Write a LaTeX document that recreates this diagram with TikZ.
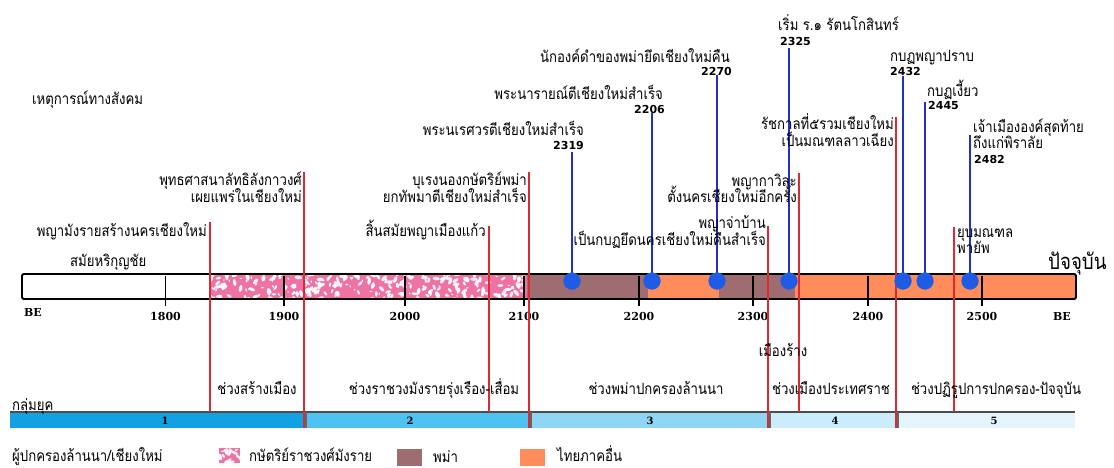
\documentclass[tikz,border=0pt]{standalone}
\usepackage{fontspec}
\newfontfamily\thai[Script=Thai,FakeStretch=0.85]{Loma}
\newfontfamily\numsans{DejaVu Sans}
\newfontfamily\numserif{DejaVu Serif}
\definecolor{redl}{HTML}{DC2A33}
\definecolor{bluel}{HTML}{2230C8}
\definecolor{dotc}{HTML}{1F5CE6}
\definecolor{brownc}{HTML}{9E6D72}
\definecolor{orangec}{HTML}{FF8D5C}
\definecolor{pinkc}{HTML}{EE72A3}
\definecolor{bandA}{HTML}{12A2E2}
\definecolor{bandB}{HTML}{4EC2F1}
\definecolor{bandC}{HTML}{8FD6F4}
\definecolor{bandD}{HTML}{CBECFA}
\definecolor{bandE}{HTML}{E3F4FC}
\tikzset{
  th/.style={font=\thai\fontsize{15.5}{17}\selectfont, inner sep=0pt},
  thR/.style={th, anchor=base east},
  thL/.style={th, anchor=base west},
  thC/.style={th, anchor=base},
  yr/.style={font=\numsans\bfseries\fontsize{11}{11}\selectfont, inner sep=0pt, anchor=base west},
  tk/.style={font=\numserif\bfseries\fontsize{11}{11}\selectfont, inner sep=0pt, anchor=base},
  bn/.style={font=\numserif\bfseries\fontsize{10}{10}\selectfont, inner sep=0pt},
  redline/.style={draw=redl, line width=2.2pt},
  blueline/.style={draw=bluel, line width=1.6pt},
  dot/.style={circle, fill=dotc, minimum size=17pt, inner sep=0pt},
  tickline/.style={draw=black, line width=1.3pt},
  blob/.style={fill=white, opacity=0.9},
}
\begin{document}
\begin{tikzpicture}[x=1pt,y=-1pt]
\useasboundingbox (0,0) rectangle (1114,467);
\fill[white] (0,0) rectangle (1114,467);

% ---- main bar fills
\fill[white] (22,274) rectangle (210,299);
\fill[pinkc] (210,274) rectangle (527,299);
\begin{scope}
  \clip (210,274) rectangle (527,299);
  \pgfmathsetseed{11}
  \foreach \i in {1,...,300}{
    \pgfmathsetmacro\px{210+317*rnd}
    \pgfmathsetmacro\py{273+27*rnd}
    \pgfmathsetmacro\pr{0.8+1.6*rnd}
    \pgfmathsetmacro\pa{180*rnd}
    \fill[blob, rotate around={\pa:(\px,\py)}] (\px,\py) ellipse ({\pr*1.6} and {\pr*0.8});
  }
\end{scope}
\fill[brownc] (527,274) rectangle (648,299);
\fill[orangec] (648,274) rectangle (719,299);
\fill[brownc] (719,274) rectangle (795,299);
\fill[orangec] (795,274) rectangle (1076,299);
\draw[line width=1.8pt, rounded corners=1.5pt] (22,274) rectangle (1076,299);

% ticks
\foreach \tx/\lab in {165.5/1800,284/1900,405/2000,524/2100,639/2200,753/2300,868/2400,982/2500}{
  \draw[tickline] (\tx,276) -- (\tx,306);
  \node[tk] (t\lab) at (\tx,320) {\lab};
}
\node[tk] (beL) at (33,316) {BE};
\node[tk] (beR) at (1062,320) {BE};

% ---- band
\fill[bandA] (10,412) rectangle (304,428);
\fill[bandB] (304,412) rectangle (529,428);
\fill[bandC] (529,412) rectangle (768,428);
\fill[bandD] (768,412) rectangle (896,428);
\fill[bandE] (896,412) rectangle (1075,428);
\draw[draw=black!70, line width=1.8pt] (10,412) -- (1075,412);
\foreach \bx in {304,529,768,896}{ \draw[black!60, line width=2.6pt] (\bx+1.5,412) -- (\bx+1.5,428); }
\node[bn] (g1) at (165,421) {1};
\node[bn] (g2) at (410,421) {2};
\node[bn] (g3) at (650,421) {3};
\node[bn] (g4) at (835,421) {4};
\node[bn] (g5) at (994,421) {5};

% ---- red event lines
\foreach \n/\rx/\ry/\rb in {r1/210/222/412, r2/304/172/428, r3/489/226/412, r4/529/172/428, r5/768/226/428, r6/799/173/412, r7/896/117/428, r8/954/227/412}{
  \coordinate (\n top) at (\rx,\ry);
  \coordinate (\n bot) at (\rx,\rb);
  \draw[redline] (\n top) -- (\n bot);
}

% ---- blue event lines and dots
\foreach \n/\bx/\by in {b2319/572/152, b2206/652/113, b2270/717/75, b2325/789/48, b2432/903/76, b2445/925/102, b2482/970/135}{
  \coordinate (\n top) at (\bx,\by);
  \node[dot] (\n dot) at (\bx,281) {};
  \draw[blueline] (\n top) -- (\n dot.center);
  \node[dot] at (\n dot) {};
}

% ---- labels
\node[thL] (social) at (32,104) {เหตุการณ์ทางสังคม};
\node[thL] (hari) at (70,266) {สมัยหริกุญชัย};
\node[th, anchor=base west, font=\thai\fontsize{22}{24}\selectfont] (now) at (1048,269) {ปัจจุบัน};

\node[thR] (e1) at (207,236) {พญามังรายสร้างนครเชียงใหม่};
\node[thR] (e2a) at (302,185) {พุทธศาสนาลัทธิลังกาวงศ์};
\node[thR] (e2b) at (302,202) {เผยแพร่ในเชียงใหม่};
\node[thR] (e3) at (486,236) {สิ้นสมัยพญาเมืองแก้ว};
\node[thR] (e4a) at (527,185) {บุเรงนองกษัตริย์พม่า};
\node[thR] (e4b) at (527,202) {ยกทัพมาตีเชียงใหม่สำเร็จ};
\node[thR] (e5a) at (766,228) {พญาจ่าบ้าน};
\node[thR] (e5b) at (766,245) {เป็นกบฏยึดนครเชียงใหม่คืนสำเร็จ};
\node[thR] (e6a) at (797,186) {พญากาวิละ};
\node[thR] (e6b) at (797,202) {ตั้งนครเชียงใหม่อีกครั้ง};
\node[thR] (e7a) at (894,129) {รัชกาลที่๕รวมเชียงใหม่};
\node[thR] (e7b) at (894,146) {เป็นมณฑลลาวเฉียง};
\node[thL] (e8a) at (957,237) {ยุบมณฑล};
\node[thL] (e8b) at (957,253) {พายัพ};

\node[thR] (n2319) at (584,135) {พระนเรศวรตีเชียงใหม่สำเร็จ};
\node[yr, anchor=base east] (y2319) at (584,149) {2319};
\node[thR] (n2206) at (663,99) {พระนารายณ์ตีเชียงใหม่สำเร็จ};
\node[yr, anchor=base east] (y2206) at (665,113) {2206};
\node[thR] (n2270) at (730,62) {นักองค์ดำของพม่ายึดเชียงใหม่คืน};
\node[yr, anchor=base east] (y2270) at (732,75) {2270};
\node[thL] (n2325) at (778,30) {เริ่ม ร.๑ รัตนโกสินทร์};
\node[yr] (y2325) at (780,45) {2325};
\node[thL] (n2432) at (890,61) {กบฏพญาปราบ};
\node[yr] (y2432) at (890,75) {2432};
\node[thL] (n2445) at (927,96) {กบฏเงี้ยว};
\node[yr] (y2445) at (928,109) {2445};
\node[thL] (n2482a) at (973,132) {เจ้าเมืององค์สุดท้าย};
\node[thL] (n2482b) at (973,148) {ถึงแก่พิราลัย};
\node[yr] (y2482) at (974,163) {2482};

\node[thC] (ruin) at (783,356) {เมืองร้าง};

\node[thC] (p1) at (257,394) {ช่วงสร้างเมือง};
\node[thC] (p2) at (434,394) {ช่วงราชวงมังรายรุ่งเรือง-เสื่อม};
\node[thC] (p3) at (656,394) {ช่วงพม่าปกครองล้านนา};
\node[thC] (p4) at (831,394) {ช่วงเมืองประเทศราช};
\node[thC] (p5) at (996,394) {ช่วงปฏิรูปการปกครอง-ปัจจุบัน};
\node[thL] (grp) at (12,410) {กลุ่มยุค};

% ---- legend
\node[thL] (rulers) at (12,461) {ผู้ปกครองล้านนา/เชียงใหม่};
\fill[pinkc] (219,448) rectangle (240,463);
\begin{scope}
  \clip (219,448) rectangle (240,463);
  \pgfmathsetseed{5}
  \foreach \i in {1,...,22}{
    \pgfmathsetmacro\px{219+21*rnd}
    \pgfmathsetmacro\py{447+17*rnd}
    \pgfmathsetmacro\pr{0.8+1.4*rnd}
    \pgfmathsetmacro\pa{180*rnd}
    \fill[blob, rotate around={\pa:(\px,\py)}] (\px,\py) ellipse ({\pr*1.6} and {\pr*0.8});
  }
\end{scope}
\node[thL] (lg1) at (249,461) {กษัตริย์ราชวงศ์มังราย};
\fill[brownc] (397,449) rectangle (422,466);
\node[thL] (lg2) at (433,462) {พม่า};
\fill[orangec] (520,449) rectangle (545,466);
\node[thL] (lg3) at (557,461) {ไทยภาคอื่น};
\end{tikzpicture}
\end{document}
